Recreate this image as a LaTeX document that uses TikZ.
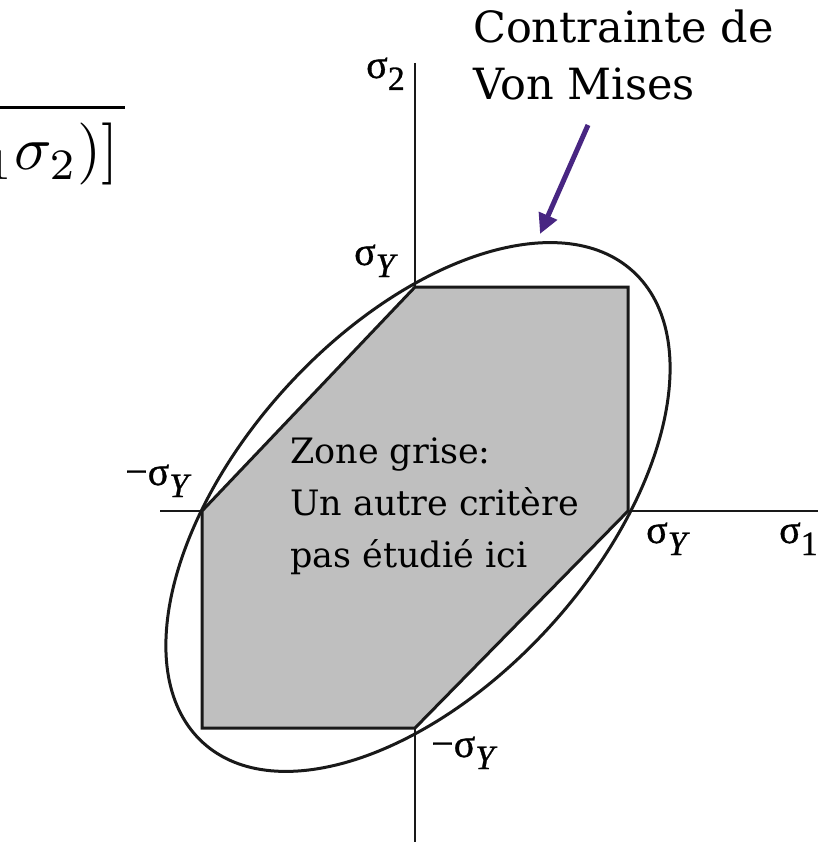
\documentclass[tikz,border=0pt]{standalone}
\usepackage{fontspec}
\usepackage{graphicx}
\setmainfont{DejaVu Serif}
\newfontfamily\symfont[FakeBold=0.8]{Liberation Serif}
\usetikzlibrary{arrows.meta}
\definecolor{zonegray}{RGB}{191,191,191}
\definecolor{arrowpurple}{RGB}{72,38,130}
\definecolor{inkline}{RGB}{25,25,25}
\newcommand{\siglab}[2]{{\symfont\fontsize{40}{40}\selectfont #1σ\raisebox{-12pt}{\fontsize{34}{34}\selectfont #2}}}
\begin{document}
\begin{tikzpicture}[x=1pt,y=-1pt,
  axisline/.style={line width=2.5pt,draw=inkline},
  hexline/.style={line width=3pt,draw=inkline,fill=zonegray,line join=miter},
  vmline/.style={line width=3pt,draw=inkline},
  pointer/.style={line width=5pt,draw=arrowpurple,-{Triangle[length=20pt,width=19pt]}},
  lab/.style={anchor=base west,inner sep=0pt},
  bigtext/.style={anchor=base west,inner sep=0pt,font=\fontsize{43}{57}\selectfont},
  zonetext/.style={anchor=base west,inner sep=0pt,font=\fontsize{35}{52}\selectfont}]
\useasboundingbox (0,0) rectangle (827,842);
\clip (0,0) rectangle (827,842);
\fill[white] (0,0) rectangle (827,842);
% axes
\coordinate (xl) at (160,511);
\coordinate (xr) at (818,511);
\coordinate (yt) at (415,63);
\coordinate (yb) at (415,845);
\draw[axisline] (xl) -- (xr);
\draw[axisline] (yt) -- (yb);
% hexagon
\coordinate (h1) at (415,287);
\coordinate (h2) at (628,287);
\coordinate (h3) at (628,511);
\coordinate (h4) at (415,728);
\coordinate (h5) at (202,728);
\coordinate (h6) at (202,511);
\draw[hexline] (h1) -- (h2) -- (h3) -- (h4) -- (h5) -- (h6) -- cycle;
% von Mises ellipse
\coordinate (c) at (418,507);
\draw[vmline,rotate around={47.6:(c)}] (c) ellipse [x radius=319, y radius=178];
% formula fragment
\coordinate (ol1) at (0,108);
\coordinate (ol2) at (125,108);
\draw[line width=3pt] (ol1) -- (ol2);
\node[anchor=base east,inner sep=0pt] (frag) at (119,170) {\scalebox{6.2}{$ {}_1\sigma_2)]$}};
% labels
\node[lab] (s2) at (366,78) {\siglab{}{2}};
\node[lab] (syt) at (354,265) {\siglab{}{\itshape Y}};
\node[lab] (syl) at (125,485) {\siglab{−}{\itshape Y}};
\node[lab] (syr) at (646,543) {\siglab{}{\itshape Y}};
\node[lab] (s1) at (779,543) {\siglab{}{1}};
\node[lab] (syb) at (431,757) {\siglab{−}{\itshape Y}};
% title + arrow
\node[bigtext] (ct1) at (473,43) {Contrainte de};
\node[bigtext] (ct2) at (473,100) {Von Mises};
\coordinate (arrs) at (588,125);
\coordinate (arrt) at (540,234);
\draw[pointer] (arrs) -- (arrt);
% zone text
\node[zonetext] (z1) at (290,463) {Zone grise:};
\node[zonetext] (z2) at (290,515) {Un autre critère};
\node[zonetext] (z3) at (290,567) {pas étudié ici};
\end{tikzpicture}
\end{document}
